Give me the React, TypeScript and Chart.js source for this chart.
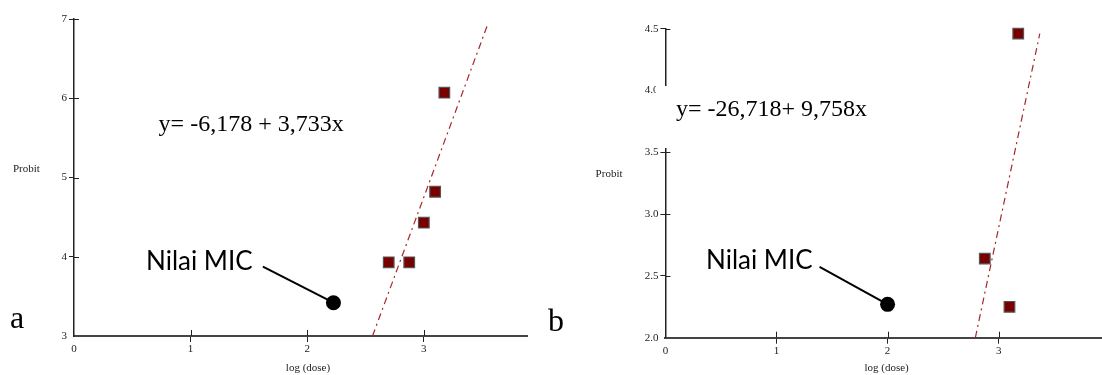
import React, { useEffect, useRef } from "react";
import { Chart, registerables } from "chart.js";

Chart.register(...registerables);

const SERIF = '"Liberation Serif", "Times New Roman", serif';
const SANS = 'Lato, "Open Sans", "Noto Sans", sans-serif';

// ---------- shared text ----------
const micLabel = "Nilai MIC";
const xTitle = "log (dose)";
const yTitle = "Probit";

// ---------- panel a ----------
const aLogDose = [2.699, 2.875, 3.0, 3.097, 3.176];
const aProbit = [3.93, 3.93, 4.43, 4.82, 6.07];
const aFitLogDose = [2.56, 3.55];
const aFitProbit = [3.0, 6.94];
const aMicLogDose = [2.225];
const aMicProbit = [3.42];
const aLeaderLogDose = [1.62];
const aLeaderProbit = [3.875];
const aXTicks = [0, 1, 2, 3];
const aYTicks = [3, 4, 5, 6, 7];
const aXRange = [0, 3.89];
const aYRange = [3, 7];
const aEquation = "y= -6,178 + 3,733x";
const aLetter = "a";

// ---------- panel b ----------
const bLogDose = [2.875, 3.097, 3.176];
const bProbit = [2.64, 2.25, 4.46];
const bFitLogDose = [2.79, 3.37];
const bFitProbit = [2.0, 4.46];
const bMicLogDose = [2.0];
const bMicProbit = [2.27];
const bLeaderLogDose = [1.388];
const bLeaderProbit = [2.574];
const bXTicks = [0, 1, 2, 3];
const bYTicks = [2.0, 2.5, 3.0, 3.5, 4.0, 4.5];
const bXRange = [0, 3.93];
const bYRange = [2.0, 4.5];
const bEquation = "y= -26,718+ 9,758x";
const bLetter = "b";

type PanelData = {
  x: number[]; y: number[]; fitX: number[]; fitY: number[];
  micX: number[]; micY: number[]; leadX: number[]; leadY: number[];
  xTicks: number[]; yTicks: number[]; xRange: number[]; yRange: number[];
  equation: string; letter: string; yDecimals: number;
};

type Layout = {
  width: number; height: number;
  area: { left: number; top: number; right: number; bottom: number };
  equationPos: [number, number];
  micLabelPos: [number, number];
  letterPos: [number, number];
  yTitlePos: [number, number];
  xTitlePos: [number, number];
  mask?: [number, number, number, number];
};

const panelA: PanelData = {
  x: aLogDose, y: aProbit, fitX: aFitLogDose, fitY: aFitProbit,
  micX: aMicLogDose, micY: aMicProbit, leadX: aLeaderLogDose, leadY: aLeaderProbit,
  xTicks: aXTicks, yTicks: aYTicks, xRange: aXRange, yRange: aYRange,
  equation: aEquation, letter: aLetter, yDecimals: 0,
};
const panelB: PanelData = {
  x: bLogDose, y: bProbit, fitX: bFitLogDose, fitY: bFitProbit,
  micX: bMicLogDose, micY: bMicProbit, leadX: bLeaderLogDose, leadY: bLeaderProbit,
  xTicks: bXTicks, yTicks: bYTicks, xRange: bXRange, yRange: bYRange,
  equation: bEquation, letter: bLetter, yDecimals: 1,
};

const layoutA: Layout = {
  width: 540, height: 375,
  area: { left: 74, top: 19, right: 527.6, bottom: 336 },
  equationPos: [158.6, 131],
  micLabelPos: [146, 270],
  letterPos: [10, 328],
  yTitlePos: [13, 172],
  xTitlePos: [308, 371],
};
const layoutB: Layout = {
  width: 562, height: 375,
  area: { left: 125.4, top: 28.7, right: 562, bottom: 337.7 },
  equationPos: [136, 116],
  micLabelPos: [166, 269],
  letterPos: [8, 331],
  yTitlePos: [55.6, 177],
  xTitlePos: [346.6, 371],
  mask: [116, 86, 220, 62],
};

function makeOverlay(d: PanelData, L: Layout) {
  return {
    id: "overlay",
    afterDraw(chart: any) {
      const ctx = chart.ctx as CanvasRenderingContext2D;
      const xs = chart.scales.x;
      const ys = chart.scales.y;
      const a = chart.chartArea;
      ctx.save();
      // inner halves of tick marks
      ctx.strokeStyle = "#222";
      ctx.lineWidth = 1;
      d.yTicks.forEach((v) => {
        if (v === d.yRange[0]) return;
        const py = Math.round(ys.getPixelForValue(v)) + 0.5;
        ctx.beginPath();
        ctx.moveTo(a.left, py);
        ctx.lineTo(a.left + 5, py);
        ctx.stroke();
      });
      d.xTicks.forEach((v) => {
        if (v === d.xRange[0]) return;
        const px = Math.round(xs.getPixelForValue(v)) + 0.5;
        ctx.beginPath();
        ctx.moveTo(px, a.bottom);
        ctx.lineTo(px, a.bottom - 6);
        ctx.stroke();
      });
      // white text box over the axis
      if (L.mask) {
        ctx.fillStyle = "#ffffff";
        ctx.fillRect(L.mask[0], L.mask[1], L.mask[2], L.mask[3]);
      }
      ctx.fillStyle = "#000";
      ctx.textBaseline = "alphabetic";
      ctx.textAlign = "left";
      // equation
      ctx.font = `24px ${SERIF}`;
      ctx.fillText(d.equation, L.equationPos[0], L.equationPos[1]);
      // MIC label
      ctx.font = `26px ${SANS}`;
      ctx.fillText(micLabel, L.micLabelPos[0], L.micLabelPos[1]);
      // panel letter
      ctx.font = `32px ${SERIF}`;
      ctx.fillText(d.letter, L.letterPos[0], L.letterPos[1]);
      // axis titles
      ctx.font = `11px ${SERIF}`;
      ctx.fillStyle = "#222";
      ctx.fillText(yTitle, L.yTitlePos[0], L.yTitlePos[1]);
      ctx.textAlign = "center";
      ctx.fillText(xTitle, L.xTitlePos[0], L.xTitlePos[1]);
      // leader line to MIC point
      ctx.strokeStyle = "#000";
      ctx.lineWidth = 2;
      ctx.beginPath();
      ctx.moveTo(xs.getPixelForValue(d.leadX[0]), ys.getPixelForValue(d.leadY[0]));
      ctx.lineTo(xs.getPixelForValue(d.micX[0]), ys.getPixelForValue(d.micY[0]));
      ctx.stroke();
      ctx.restore();
    },
  };
}

function makeChart(canvas: HTMLCanvasElement, d: PanelData, L: Layout) {
  const pts = (xs: number[], ys: number[]) => xs.map((x, i) => ({ x, y: ys[i] }));
  const tickColor = (min: number) => (c: any) =>
    c.tick && c.tick.value === min ? "rgba(0,0,0,0)" : "#222";
  return new Chart(canvas, {
    type: "scatter",
    data: {
      datasets: [
        {
          type: "line",
          data: pts(d.fitX, d.fitY),
          showLine: true,
          borderColor: "#a3282c",
          borderWidth: 1.2,
          borderDash: [7, 4, 2, 4],
          pointRadius: 0,
          fill: false,
          clip: false,
          order: 3,
        } as any,
        {
          data: pts(d.x, d.y),
          pointStyle: "rect",
          pointRadius: 7.5,
          backgroundColor: "#7a0000",
          borderColor: "#555555",
          borderWidth: 1.2,
          clip: false,
          order: 1,
        } as any,
        {
          data: pts(d.micX, d.micY),
          pointStyle: "circle",
          pointRadius: 7.5,
          backgroundColor: "#000",
          borderColor: "#000",
          borderWidth: 0,
          clip: false,
          order: 2,
        } as any,
      ],
    },
    options: {
      responsive: false,
      animation: false,
      devicePixelRatio: 1,
      events: [],
      layout: {
        autoPadding: false,
        padding: { left: 0, top: L.area.top, right: L.width - L.area.right, bottom: 0 },
      },
      plugins: { legend: { display: false }, tooltip: { enabled: false } },
      scales: {
        x: {
          type: "linear",
          min: d.xRange[0],
          max: d.xRange[1],
          afterBuildTicks: (s: any) => {
            s.ticks = d.xTicks.map((v) => ({ value: v }));
          },
          afterFit: (s: any) => {
            s.height = L.height - L.area.bottom;
          },
          grid: {
            drawOnChartArea: false,
            drawTicks: true,
            tickLength: 6,
            color: tickColor(d.xRange[0]),
            lineWidth: 1,
          },
          border: { color: "#444", width: 2 },
          ticks: {
            font: { family: SERIF, size: 11 },
            color: "#222",
            padding: 1,
            maxRotation: 0,
            autoSkip: false,
            callback: (v: any) => String(v),
          },
        },
        y: {
          type: "linear",
          min: d.yRange[0],
          max: d.yRange[1],
          afterBuildTicks: (s: any) => {
            s.ticks = d.yTicks.map((v) => ({ value: v }));
          },
          afterFit: (s: any) => {
            s.width = L.area.left;
          },
          grid: {
            drawOnChartArea: false,
            drawTicks: true,
            tickLength: 5,
            color: tickColor(d.yRange[0]),
            lineWidth: 1,
          },
          border: { color: "#222", width: 1.5 },
          ticks: {
            font: { family: SERIF, size: 11 },
            color: "#222",
            padding: 2,
            autoSkip: false,
            callback: (v: any) => Number(v).toFixed(d.yDecimals),
          },
        },
      },
    } as any,
    plugins: [makeOverlay(d, L)],
  });
}

function Panel({ d, L, left }: { d: PanelData; L: Layout; left: number }) {
  const ref = useRef<HTMLCanvasElement | null>(null);
  useEffect(() => {
    if (!ref.current) return;
    const chart = makeChart(ref.current, d, L);
    return () => chart.destroy();
  }, [d, L]);
  return (
    <canvas
      ref={ref}
      width={L.width}
      height={L.height}
      style={{ position: "absolute", left, top: 0, width: L.width, height: L.height }}
    />
  );
}

export default function App() {
  return (
    <div
      style={{
        position: "fixed",
        left: 0,
        top: 0,
        width: 1102,
        height: 375,
        background: "#ffffff",
        overflow: "hidden",
      }}
    >
      <Panel d={panelA} L={layoutA} left={0} />
      <Panel d={panelB} L={layoutB} left={540} />
    </div>
  );
}
